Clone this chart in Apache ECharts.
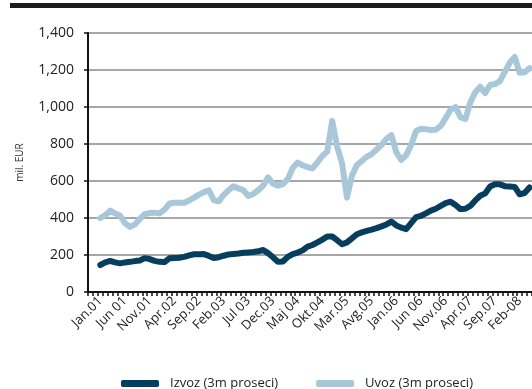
<!DOCTYPE html>
<html>
<head>
<meta charset="utf-8">
<script src="https://cdn.jsdelivr.net/npm/echarts@6/dist/echarts.min.js"></script>
<style>
  html, body { margin: 0; padding: 0; background: #ffffff; }
  #chart { width: 532px; height: 389px; }
</style>
</head>
<body>
<div id="chart"></div>
<script>
// Monthly categories, Nov.00 .. Apr.08 (first two months have no 3-month average)
const monthNames = ['Jan', 'Feb', 'Mar', 'Apr', 'Maj', 'Jun', 'Jul', 'Avg', 'Sep', 'Okt', 'Nov', 'Dec'];
const categories = ['Nov.00', 'Dec.00'];
for (let y = 1; y <= 8; y++) {
  for (let m = 0; m < 12; m++) {
    if (y === 8 && m > 3) break;
    categories.push(monthNames[m] + '.0' + y);
  }
}

// Labels shown every fifth month, starting at Jan.01
const tickLabels = ['Jan.01', 'Jun 01', 'Nov.01', 'Apr.02', 'Sep.02', 'Feb.03', 'Jul 03', 'Dec.03',
  'Maj 04', 'Okt.04', 'Mar.05', 'Avg.05', 'Jan.06', 'Jun 06', 'Nov.06', 'Apr.07', 'Sep.07', 'Feb-08'];

// Exports, 3-month moving average, mil. EUR (Jan.01 .. Apr.08)
const izvoz = [
  146, 160, 168, 160, 155, 160, 163, 167, 170, 183, 178, 168,
  163, 162, 182, 184, 185, 190, 198, 204, 204, 205, 195, 184,
  188, 196, 203, 206, 208, 212, 214, 216, 220, 227, 210, 188,
  163, 165, 190, 205, 213, 225, 245, 254, 268, 283, 300, 300,
  280, 258, 268, 290, 312, 322, 330, 337, 345, 355, 365, 380,
  360, 348, 340, 372, 405, 412, 425, 440, 450, 465, 480, 488,
  470, 448, 450, 465, 495, 520, 533, 570, 582, 582, 572, 570,
  568, 528, 535, 565
];

// Imports, 3-month moving average, mil. EUR (Jan.01 .. Apr.08)
const uvoz = [
  400, 415, 440, 425, 413, 372, 352, 365, 395, 421, 427, 429,
  425, 445, 478, 482, 483, 483, 495, 510, 526, 540, 550, 497,
  490, 525, 550, 572, 560, 550, 519, 530, 550, 575, 620, 585,
  575, 583, 610, 670, 700, 685, 675, 668, 700, 735, 760, 925,
  785, 695, 510, 630, 686, 708, 731, 745, 770, 795, 828, 848,
  755, 714, 740, 795, 870, 882, 880, 876, 877, 898, 940, 985,
  1000, 945, 935, 1025, 1080, 1110, 1075, 1119, 1124, 1140, 1190, 1240,
  1270, 1185, 1188, 1210
];

const lead = ['-', '-'];
const fontFamily = '"Open Sans", "Noto Sans", sans-serif';

const chart = echarts.init(document.getElementById('chart'), null, { renderer: 'canvas' });

chart.setOption({
  animation: false,
  backgroundColor: '#ffffff',
  graphic: [{
    type: 'rect',
    shape: { x: 10, y: 3, width: 530, height: 5 },
    style: { fill: '#1c1c1c' }
  }],
  grid: { left: 88, right: 0, top: 33, bottom: 97 },
  legend: {
    left: 116,
    top: 372,
    icon: 'roundRect',
    itemWidth: 38,
    itemHeight: 7,
    itemGap: 38,
    selectedMode: false,
    textStyle: { fontFamily, fontSize: 13, color: '#222', padding: [0, 0, 0, 6] },
    data: ['Izvoz (3m proseci)', 'Uvoz (3m proseci)']
  },
  xAxis: {
    type: 'category',
    data: categories,
    boundaryGap: true,
    axisLine: { lineStyle: { color: '#111', width: 2 } },
    axisTick: { show: true, interval: 0, length: 4, lineStyle: { color: '#111', width: 1.5 } },
    axisLabel: {
      interval: (index) => index >= 2 && (index - 2) % 5 === 0,
      formatter: (value, index) => tickLabels[(index - 2) / 5],
      rotate: 45,
      margin: 7,
      fontFamily,
      fontSize: 13,
      color: '#222'
    },
    splitLine: { show: false }
  },
  yAxis: {
    type: 'value',
    min: 0,
    max: 1400,
    interval: 200,
    name: 'mil. EUR',
    nameLocation: 'middle',
    nameRotate: 90,
    nameGap: 63,
    nameTextStyle: { fontFamily, fontSize: 10, color: '#333' },
    axisLine: { show: true, lineStyle: { color: '#111', width: 2 } },
    axisTick: { show: true, length: 4, lineStyle: { color: '#111', width: 1.5 } },
    axisLabel: {
      margin: 14,
      fontFamily,
      fontSize: 14,
      color: '#222',
      formatter: (v) => v.toLocaleString('en-US')
    },
    splitLine: { show: true, lineStyle: { color: '#8a8a8a', width: 1.5 } }
  },
  series: [
    {
      name: 'Izvoz (3m proseci)',
      type: 'line',
      data: lead.concat(izvoz),
      symbol: 'none',
      color: '#073e5e',
      lineStyle: { width: 6, color: '#073e5e', cap: 'round', join: 'round' },
      z: 3
    },
    {
      name: 'Uvoz (3m proseci)',
      type: 'line',
      data: lead.concat(uvoz),
      symbol: 'none',
      color: '#a8c8da',
      lineStyle: { width: 6, color: '#a8c8da', cap: 'round', join: 'round' },
      z: 2
    }
  ]
});
</script>
</body>
</html>
